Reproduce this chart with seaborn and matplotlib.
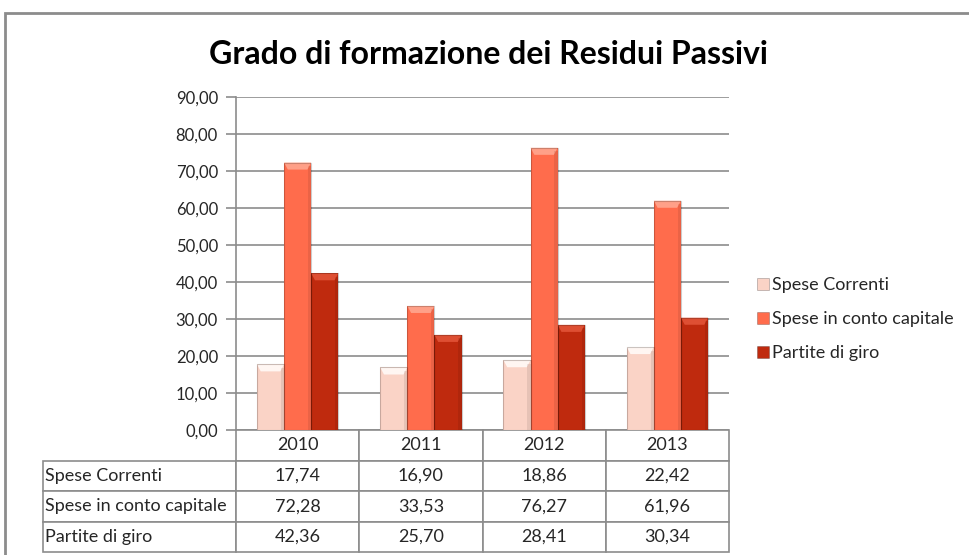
import matplotlib
matplotlib.use("Agg")
import matplotlib.pyplot as plt
import seaborn as sns
import pandas as pd
from matplotlib.patches import Rectangle, Polygon
from matplotlib.lines import Line2D

years = ["2010", "2011", "2012", "2013"]
series = ["Spese Correnti", "Spese in conto capitale", "Partite di giro"]
spese_correnti = [17.74, 16.90, 18.86, 22.42]
spese_conto_capitale = [72.28, 33.53, 76.27, 61.96]
partite_giro = [42.36, 25.70, 28.41, 30.34]
yticks = [0, 10, 20, 30, 40, 50, 60, 70, 80, 90]
title = "Grado di formazione dei Residui Passivi"

colors = ["#FAD3C6", "#FF6C4C", "#BF2A0E"]
tops = ["#FFF6F2", "#FFA088", "#DE4F33"]

values = [spese_correnti, spese_conto_capitale, partite_giro]
df = pd.DataFrame({
    "anno": [y for s in series for y in years],
    "serie": [s for s in series for _ in years],
    "valore": [v for vals in values for v in vals],
})

sns.set_theme(style="white")
plt.rcParams["font.family"] = ["Lato", "DejaVu Sans"]

W, H = 969, 555
fig = plt.figure(figsize=(W / 100, H / 100), dpi=100)
ax = fig.add_axes([236 / W, 1 - 430 / H, (729 - 236) / W, (430 - 97) / H])

sns.barplot(data=df, x="anno", y="valore", hue="serie", order=years,
            hue_order=series, palette=colors, width=0.66, gap=0,
            ax=ax, legend=False, saturation=1, edgecolor="none", zorder=3)

rgba_cols = [tuple(round(c, 3) for c in matplotlib.colors.to_rgba(col)) for col in colors]
for patch in list(ax.patches):
    x0, y0 = patch.get_x(), patch.get_y()
    w, h = patch.get_width(), patch.get_height()
    idx = rgba_cols.index(tuple(round(c, 3) for c in patch.get_facecolor()))
    bev = 1.9
    ins = w * 0.14
    ax.add_patch(Polygon([[x0, y0 + h], [x0 + w, y0 + h], [x0 + w - ins, y0 + h - bev],
                          [x0 + ins, y0 + h - bev]], closed=True, facecolor=tops[idx],
                         edgecolor="none", zorder=4))
    # darker right side shading
    ax.add_patch(Rectangle((x0 + w * 0.88, y0), w * 0.12, h - bev * 0.5,
                           facecolor=(0, 0, 0, 0.08), edgecolor="none", zorder=4))
    ax.add_patch(Rectangle((x0, y0), w, h, facecolor="none",
                           edgecolor=(0, 0, 0, 0.2), lw=0.8, zorder=5))

ax.set_ylim(0, 90)
ax.set_yticks(yticks)
ax.set_yticklabels([f"{v:.2f}".replace(".", ",") for v in yticks], fontsize=12)
ax.set_xlim(-0.5, 3.5)
ax.set_xticks([])
ax.set_xlabel("")
ax.set_ylabel("")
ax.yaxis.grid(True, color="#8C8C8C", lw=1.2, zorder=0)
ax.set_axisbelow(True)
for s in ["top", "right", "bottom"]:
    ax.spines[s].set_visible(False)
ax.spines["left"].set_color("#8C8C8C")
ax.spines["left"].set_linewidth(1.2)
ax.tick_params(axis="y", length=7, width=1.2, color="#8C8C8C", pad=6, left=True)

# data table
cell_text = [[""] + years]
for s, vals in zip(series, values):
    cell_text.append([s] + [f"{v:.2f}".replace(".", ",") for v in vals])
lab_w = 193
col_w = (729 - 236) / 4
tot = lab_w + 4 * col_w
axw = 729 - 236
axh = 430 - 97
tbl = ax.table(cellText=cell_text, colWidths=[lab_w / tot] + [col_w / tot] * 4,
               bbox=[(43 - 236) / axw, (430 - 552) / axh, tot / axw, 122 / axh],
               cellLoc="center")
tbl.auto_set_font_size(False)
for (r, c), cell in tbl.get_celld().items():
    cell.set_edgecolor("#8C8C8C")
    cell.set_linewidth(1.2)
    cell.get_text().set_fontsize(13)
    if c == 0:
        cell.get_text().set_ha("left")
        cell._loc = "left"
        cell.PAD = 0.012
    if r == 0 and c == 0:
        cell.visible_edges = ""

# legend
handles = [Line2D([], [], marker="s", linestyle="none", markersize=9,
                  markerfacecolor=col, markeredgecolor=(0, 0, 0, 0.25), markeredgewidth=0.6)
           for col in colors]
fig.legend(handles, series, loc="center left", bbox_to_anchor=(757 / W, 1 - 319 / H),
           frameon=False, fontsize=13, handlelength=0.7, handletextpad=0.15,
           labelspacing=1.0, borderaxespad=0, borderpad=0)

fig.text(488 / W, 1 - 54 / H, title, ha="center", va="center", fontsize=23,
         fontweight="bold", color="black")

# outer frame
fig.patches.append(Rectangle((5 / W, -0.1), 2, 1.1 - 13 / H, transform=fig.transFigure,
                             facecolor="none", edgecolor="#8C8C8C", lw=2))

fig.savefig("out.png", dpi=100)
